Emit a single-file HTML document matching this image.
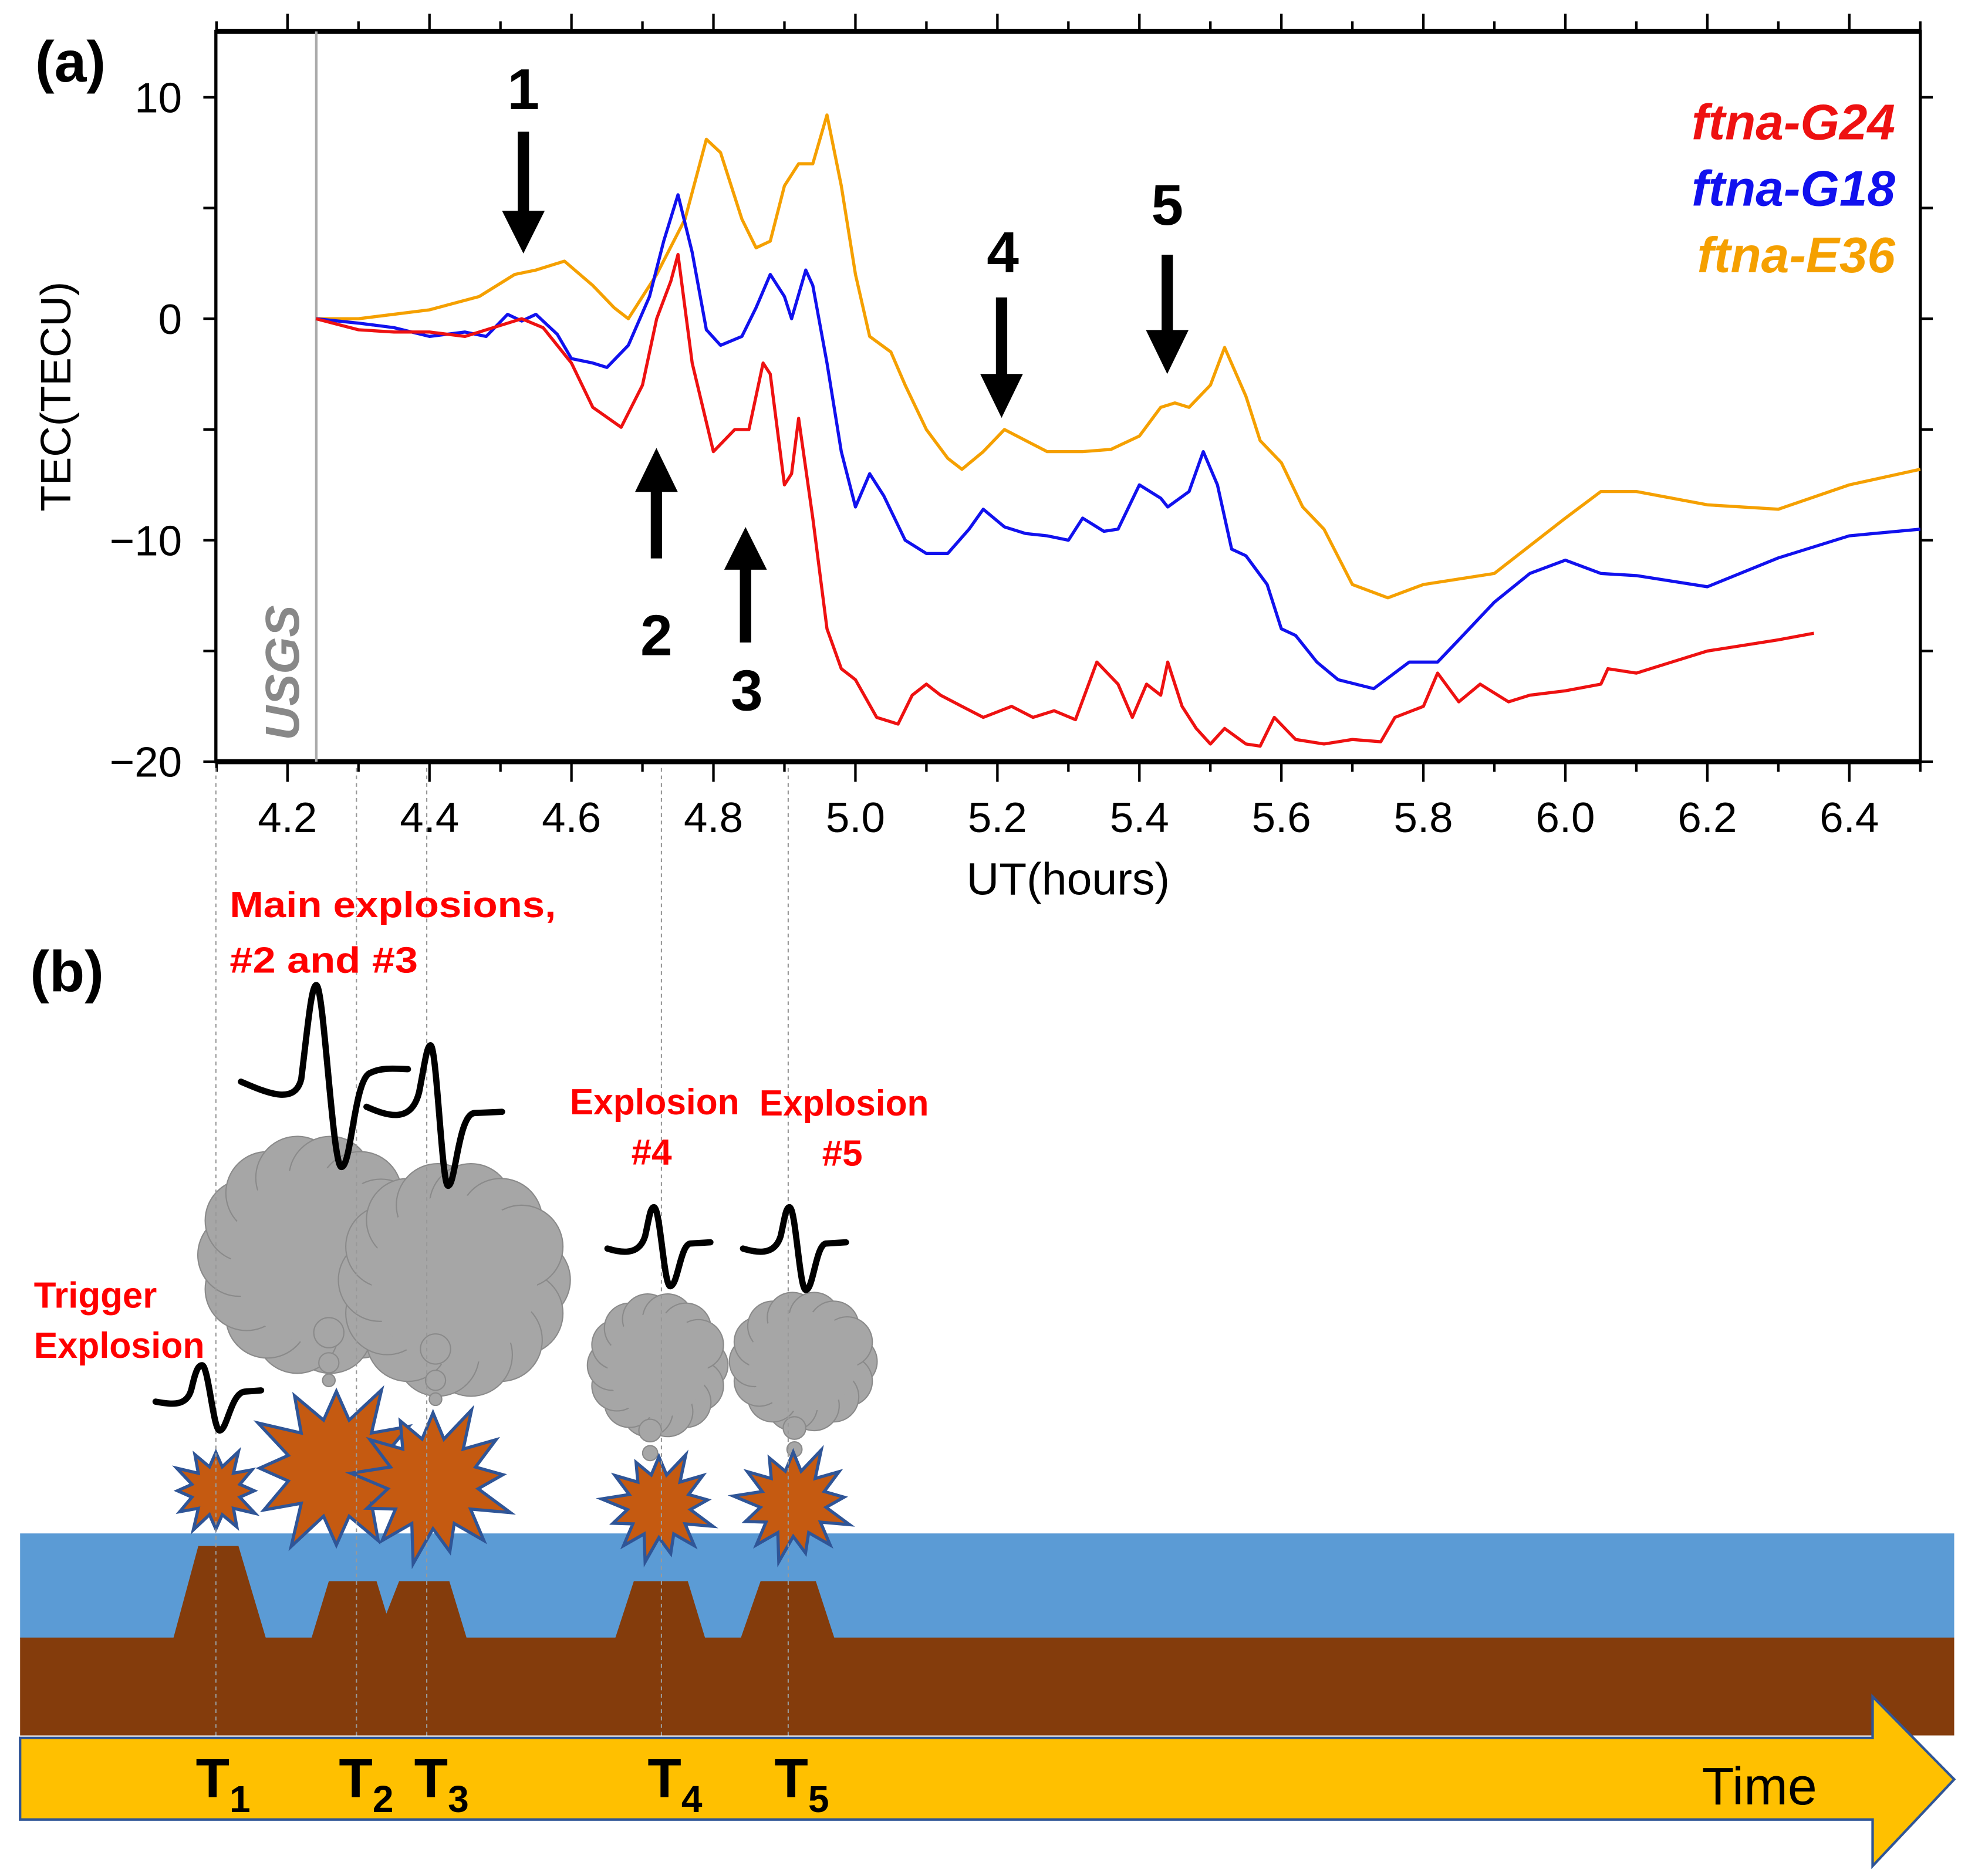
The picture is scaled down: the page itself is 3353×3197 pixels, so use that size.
<!DOCTYPE html>
<html><head><meta charset="utf-8"><style>
html,body{margin:0;padding:0;background:#fff}
svg{display:block}
text{font-family:"Liberation Sans",sans-serif}
</style></head><body>
<svg id="fig" width="3353" height="3197" viewBox="0 0 1568 1495" preserveAspectRatio="none" xmlns="http://www.w3.org/2000/svg">
<g id="panelA">
  <text x="28" y="65" font-size="46" font-weight="bold">(a)</text>
  <rect x="172" y="25" width="1358" height="582" fill="none" stroke="#000" stroke-width="2.5"/>
  <line x1="172" y1="25" x2="1530" y2="25" stroke="#000" stroke-width="4"/>
  <line x1="172" y1="607" x2="1530" y2="607" stroke="#000" stroke-width="4"/>
  <g id="ticks"></g>
  <line x1="252" y1="25" x2="252" y2="607" stroke="#aaa" stroke-width="2"/>
  <text transform="translate(238,590) rotate(-90)" font-size="38" font-style="italic" font-weight="bold" fill="#888">USGS</text>
  <text transform="translate(56,316) rotate(-90)" font-size="34" text-anchor="middle">TEC(TECU)</text>
  <text x="851" y="713" font-size="36" text-anchor="middle">UT(hours)</text>
  <g id="series"></g>
  <g font-size="40" font-weight="bold" font-style="italic" text-anchor="end">
    <text x="1510" y="111" fill="#ee1111">ftna-G24</text>
    <text x="1510" y="164" fill="#1111ee">ftna-G18</text>
    <text x="1510" y="217" fill="#f5a000">ftna-E36</text>
  </g>
  <g font-size="46" font-weight="bold" text-anchor="middle">
    <text x="417" y="87">1</text>
    <line x1="417" y1="105" x2="417" y2="175" stroke="#000" stroke-width="9"/><polygon points="400,168 434,168 417,202" fill="#000"/>
    <text x="799" y="217">4</text>
    <line x1="798" y1="237" x2="798" y2="305" stroke="#000" stroke-width="9"/><polygon points="781,298 815,298 798,333" fill="#000"/>
    <text x="930" y="179">5</text>
    <line x1="930" y1="203" x2="930" y2="270" stroke="#000" stroke-width="9"/><polygon points="913,263 947,263 930,298" fill="#000"/>
    <line x1="523" y1="445" x2="523" y2="385" stroke="#000" stroke-width="9"/><polygon points="506,392 540,392 523,357" fill="#000"/>
    <text x="523" y="522">2</text>
    <line x1="594" y1="512" x2="594" y2="447" stroke="#000" stroke-width="9"/><polygon points="577,454 611,454 594,420" fill="#000"/>
    <text x="595" y="566">3</text>
  </g>
</g>
<g id="panelB">
  <text x="24" y="790" font-size="46" font-weight="bold">(b)</text>
  <rect x="16" y="1222" width="1541" height="84" fill="#5b9bd5"/>
  <rect x="16" y="1305" width="1541" height="78" fill="#843c0c"/>
  <polygon points="16,1385 1492,1385 1492,1352 1557,1418 1492,1487 1492,1450 16,1450" fill="#ffc000" stroke="#2f5597" stroke-width="2"/>
  <g fill="#843c0c">
    <polygon points="138,1306 158,1232 190,1232 212,1306"/>
    <polygon points="248,1306 262,1260 300,1260 314,1306"/>
    <polygon points="300,1306 318,1260 358,1260 372,1306"/>
    <polygon points="490,1306 505,1260 548,1260 562,1306"/>
    <polygon points="590,1306 606,1260 650,1260 665,1306"/>
  </g>
  <g id="clouds" fill="#a6a6a6" stroke="#8a8a8a" stroke-width="1"></g>
  <g id="stars"></g>
  <g stroke="#999" stroke-width="1" stroke-dasharray="3,3">
    <line x1="172" y1="612" x2="172" y2="1385"/><line x1="284" y1="612" x2="284" y2="1385"/>
    <line x1="340" y1="612" x2="340" y2="1385"/><line x1="527" y1="612" x2="527" y2="1385"/>
    <line x1="628" y1="612" x2="628" y2="1385"/>
  </g>
  <g fill="none" stroke="#000" stroke-width="5" stroke-linecap="round">
    <path d="M192,862 C215,872 235,880 240,860 C245,820 248,785 252,785 C258,785 265,930 272,930 C280,930 282,860 295,855 C305,850 318,852 325,852"/>
    <path d="M292,882 C310,890 328,895 334,870 C338,850 340,833 343,833 C348,833 352,945 357,945 C363,945 365,888 378,887 L400,886"/>
    <path d="M124,1117 C140,1120 150,1120 153,1105 C156,1092 158,1088 161,1088 C166,1088 170,1140 175,1140 C181,1140 184,1110 195,1109 L208,1108"/>
    <path d="M484,995 C500,1000 510,998 514,985 C517,972 518,962 521,962 C526,962 529,1025 534,1025 C540,1025 542,992 550,991 L566,990"/>
    <path d="M592,995 C608,1000 618,998 622,985 C625,972 626,962 629,962 C634,962 637,1028 642,1028 C648,1028 650,992 658,991 L674,990"/>
  </g>
  <g fill="#ff0000" font-weight="bold" font-size="29">
    <text x="183" y="731" textLength="260" lengthAdjust="spacingAndGlyphs">Main explosions,</text>
    <text x="183" y="775" textLength="150" lengthAdjust="spacingAndGlyphs">#2 and #3</text>
    <text x="454" y="888" textLength="135" lengthAdjust="spacingAndGlyphs">Explosion</text>
    <text x="503" y="928">#4</text>
    <text x="605" y="889" textLength="135" lengthAdjust="spacingAndGlyphs">Explosion</text>
    <text x="655" y="929">#5</text>
    <text x="27" y="1042" textLength="98" lengthAdjust="spacingAndGlyphs">Trigger</text>
    <text x="27" y="1082" textLength="136" lengthAdjust="spacingAndGlyphs">Explosion</text>
  </g>
  <g font-size="44" font-weight="bold">
    <text x="156" y="1432">T<tspan font-size="30" dy="12">1</tspan></text>
    <text x="270" y="1432">T<tspan font-size="30" dy="12">2</tspan></text>
    <text x="330" y="1432">T<tspan font-size="30" dy="12">3</tspan></text>
    <text x="516" y="1432">T<tspan font-size="30" dy="12">4</tspan></text>
    <text x="617" y="1432">T<tspan font-size="30" dy="12">5</tspan></text>
  </g>
  <text x="1356" y="1438" font-size="42">Time</text>
</g>
</svg>
<script>
const tG24=[4.24,4.3,4.35,4.4,4.45,4.5,4.53,4.56,4.6,4.63,4.67,4.7,4.72,4.74,4.75,4.77,4.8,4.83,4.85,4.87,4.88,4.9,4.91,4.92,4.94,4.96,4.98,5.0,5.03,5.06,5.08,5.1,5.12,5.15,5.18,5.22,5.25,5.28,5.31,5.34,5.37,5.39,5.41,5.43,5.44,5.46,5.48,5.5,5.52,5.55,5.57,5.59,5.62,5.66,5.7,5.74,5.76,5.8,5.82,5.85,5.88,5.92,5.95,6.0,6.05,6.06,6.1,6.15,6.2,6.3,6.35];
const vG24=[0,-0.5,-0.6,-0.6,-0.8,-0.3,0,-0.4,-2,-4,-4.9,-3,0,1.7,2.9,-2,-6,-5,-5,-2,-2.5,-7.5,-7,-4.5,-9,-14,-15.8,-16.3,-18,-18.3,-17,-16.5,-17,-17.5,-18,-17.5,-18,-17.7,-18.1,-15.5,-16.5,-18,-16.5,-17,-15.5,-17.5,-18.5,-19.2,-18.5,-19.2,-19.3,-18,-19,-19.2,-19,-19.1,-18,-17.5,-16,-17.3,-16.5,-17.3,-17,-16.8,-16.5,-15.8,-16,-15.5,-15,-14.5,-14.2];
const tG18=[4.24,4.3,4.35,4.4,4.45,4.48,4.51,4.53,4.55,4.58,4.6,4.63,4.65,4.68,4.71,4.73,4.75,4.77,4.79,4.81,4.84,4.86,4.88,4.9,4.91,4.93,4.94,4.96,4.98,5.0,5.02,5.04,5.07,5.1,5.13,5.16,5.18,5.21,5.24,5.27,5.3,5.32,5.35,5.37,5.4,5.43,5.44,5.47,5.49,5.51,5.53,5.55,5.58,5.6,5.62,5.65,5.68,5.73,5.78,5.82,5.85,5.9,5.95,6.0,6.05,6.1,6.2,6.3,6.4,6.5];
const vG18=[0,-0.2,-0.4,-0.8,-0.6,-0.8,0.2,-0.1,0.2,-0.7,-1.8,-2,-2.2,-1.2,1,3.5,5.6,3,-0.5,-1.2,-0.8,0.5,2,1,0,2.2,1.5,-2,-6,-8.5,-7,-8,-10,-10.6,-10.6,-9.5,-8.6,-9.4,-9.7,-9.8,-10,-9,-9.6,-9.5,-7.5,-8.1,-8.5,-7.8,-6,-7.5,-10.4,-10.7,-12,-14,-14.3,-15.5,-16.3,-16.7,-15.5,-15.5,-14.5,-12.8,-11.5,-10.9,-11.5,-11.6,-12.1,-10.8,-9.8,-9.5];
const tE36=[4.24,4.3,4.4,4.47,4.52,4.55,4.59,4.63,4.66,4.68,4.72,4.76,4.79,4.81,4.84,4.86,4.88,4.9,4.92,4.94,4.96,4.98,5.0,5.02,5.05,5.07,5.1,5.13,5.15,5.18,5.21,5.24,5.27,5.32,5.36,5.4,5.43,5.45,5.47,5.5,5.52,5.55,5.57,5.6,5.63,5.66,5.7,5.75,5.8,5.9,6.0,6.05,6.1,6.2,6.3,6.4,6.5];
const vE36=[0,0,0.4,1,2,2.2,2.6,1.5,0.5,0,2,4.5,8.1,7.5,4.5,3.2,3.5,6,7,7,9.2,6,2,-0.8,-1.5,-3,-5,-6.3,-6.8,-6,-5,-5.5,-6,-6,-5.9,-5.3,-4,-3.8,-4,-3,-1.3,-3.5,-5.5,-6.5,-8.5,-9.5,-12,-12.6,-12,-11.5,-9,-7.8,-7.8,-8.4,-8.6,-7.5,-6.8];
const xTicks=[4.2,4.4,4.6,4.8,5.0,5.2,5.4,5.6,5.8,6.0,6.2,6.4];
const xTickLabels=["4.2","4.4","4.6","4.8","5.0","5.2","5.4","5.6","5.8","6.0","6.2","6.4"];
const yTicks=[10,0,-10,-20];
const yTickLabels=["10","0","\u221210","\u221220"];

const NS="http://www.w3.org/2000/svg";
function X(t){return 172.5+(t-4.1)*(1530-172.5)/2.4;}
function Y(v){return 254-v*17.65;}
function mk(tag,attrs,parent){const e=document.createElementNS(NS,tag);for(const k in attrs)e.setAttribute(k,attrs[k]);parent.appendChild(e);return e;}
const tk=document.getElementById('ticks');
for(let i=0;i<=24;i++){const t=4.1+i*0.1;const x=X(t);const major=(i%2)===1;
  mk('line',{x1:x,y1:25,x2:x,y2:25-(major?14:8),stroke:'#000','stroke-width':2},tk);
  mk('line',{x1:x,y1:607,x2:x,y2:607+(major?16:8),stroke:'#000','stroke-width':2},tk);}
xTicks.forEach((t,i)=>{const e=mk('text',{x:X(t),y:663,'font-size':34,'text-anchor':'middle'},tk);
  
  
  e.textContent=xTickLabels[i];});
for(let v=-20;v<=12.5;v+=5){const y=Y(v);
  mk('line',{x1:172,y1:y,x2:162,y2:y,stroke:'#000','stroke-width':2},tk);
  mk('line',{x1:1530,y1:y,x2:1540,y2:y,stroke:'#000','stroke-width':2},tk);}
yTicks.forEach((v,i)=>{const e=mk('text',{x:145,y:Y(v)+12,'font-size':34,'text-anchor':'end'},tk);
  
  
  e.textContent=yTickLabels[i];});
const sg=document.getElementById('series');
[[tE36,vE36,'#f5a000','series-e36'],[tG18,vG18,'#1111ee','series-g18'],[tG24,vG24,'#ee1111','series-g24']].forEach(s=>{
  const d=s[0].map((t,i)=>(i?'L':'M')+X(t).toFixed(1)+','+Y(s[1][i]).toFixed(1)).join(' ');
  const p=mk('path',{d:d,fill:'none',stroke:s[2],'stroke-width':2.5,'stroke-linejoin':'round'},sg);
  
  
});
const cg=document.getElementById('clouds');
function cloud(cx,cy,w,h){const n=14;
  for(let i=0;i<n;i++){const a=i/n*2*Math.PI;mk('circle',{cx:cx+Math.cos(a)*w*0.36,cy:cy+Math.sin(a)*h*0.36,r:Math.min(w,h)*0.2},cg);}
  mk('ellipse',{cx:cx,cy:cy,rx:w*0.4,ry:h*0.4,stroke:'none'},cg);}
cloud(250,1000,165,175);
cloud(362,1020,165,170);
cloud(524,1088,100,105);
cloud(640,1085,108,100);
[[262,1062,12],[262,1086,8],[262,1100,5],[347,1075,12],[347,1100,8],[347,1115,5],[518,1140,9],[518,1158,6],[633,1138,9],[633,1155,6]].forEach(c=>mk('circle',{cx:c[0],cy:c[1],r:c[2]},cg));
const stg=document.getElementById('stars');
function star(cx,cy,r,n){let pts=[];for(let i=0;i<2*n;i++){const a=i/(2*n)*2*Math.PI-Math.PI/2;const rr=i%2?r*0.55:r*(0.85+0.15*((i*7)%3)/2);pts.push((cx+Math.cos(a)*rr).toFixed(1)+','+(cy+Math.sin(a)*rr).toFixed(1));}
  mk('polygon',{points:pts.join(' '),fill:'#c55a11',stroke:'#2f5597','stroke-width':2.5},stg);}
star(172,1188,36,12);
star(268,1170,72,12);
star(345,1182,66,13);
star(525,1200,46,13);
star(632,1198,48,13);
</script>
</body></html>
